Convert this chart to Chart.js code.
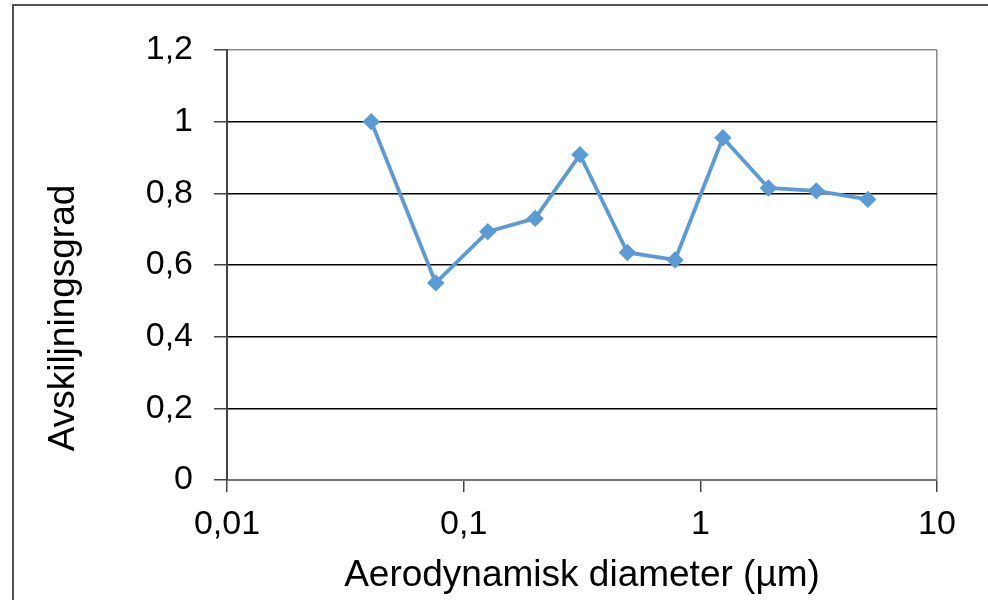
<!DOCTYPE html>
<html>
<head>
<meta charset="utf-8">
<script src="https://cdn.jsdelivr.net/npm/chart.js@4.4.1/dist/chart.umd.min.js"></script>
<style>
  html, body { margin: 0; padding: 0; background: #fff; overflow: hidden; }
  #wrap { position: relative; width: 988px; height: 600px; }
  #frame { position: absolute; left: 12px; top: 4px; width: 1000px; height: 640px;
           border: 2px solid #555; pointer-events: none; }
</style>
</head>
<body>
<div id="wrap">
  <canvas id="myChart" width="988" height="600"></canvas>
  <div id="frame"></div>
</div>
<script>
// diameter (µm) and separation efficiency
const diameters = [0.0407, 0.0762, 0.1265, 0.2005, 0.310, 0.492, 0.782, 1.245, 1.94, 3.09, 5.10];
const efficiency = [1.0, 0.55, 0.693, 0.73, 0.908, 0.635, 0.614, 0.955, 0.815, 0.807, 0.783];

const xTickValues = [0.01, 0.1, 1, 10];
const xTickLabels = ['0,01', '0,1', '1', '10'];
const yTickValues = [0, 0.2, 0.4, 0.6, 0.8, 1.0, 1.2];
const yTickLabels = ['0', '0,2', '0,4', '0,6', '0,8', '1', '1,2'];

const xTitle = 'Aerodynamisk diameter (µm)';
const yTitle = 'Avskiljningsgrad';

const FONT = '"Liberation Sans", Arial, sans-serif';

// y-titeln sitter lite under mitten av axeln, så den ritas för hand
const yTitlePlugin = {
    id: 'yTitle',
    afterDraw(chart) {
        const ctx = chart.ctx;
        ctx.save();
        ctx.translate(64, 318);
        ctx.rotate(-Math.PI / 2);
        ctx.font = '37px ' + FONT;
        ctx.fillStyle = '#000';
        ctx.textAlign = 'center';
        ctx.textBaseline = 'middle';
        ctx.fillText(yTitle, 0, 0);
        ctx.restore();
    }
};

const ctx = document.getElementById('myChart').getContext('2d');
const myChart = new Chart(ctx, {
    type: 'line',
    data: {
        datasets: [{
            label: yTitle,
            data: diameters.map((d, i) => ({x: d, y: efficiency[i]})),
            borderColor: '#5B9BD5',
            backgroundColor: '#5B9BD5',
            borderWidth: 3.8,
            pointStyle: 'rectRot',
            pointRadius: 6,
            pointHoverRadius: 6,
            tension: 0
        }]
    },
    options: {
        responsive: false,
        animation: false,
        layout: { padding: { left: 0, top: 50, right: 51, bottom: 0 } },
        plugins: {
            legend: { display: false },
            tooltip: { enabled: false }
        },
        scales: {
            x: {
                type: 'logarithmic',
                min: 0.01,
                max: 10,
                afterBuildTicks: scale => { scale.ticks = xTickValues.map(v => ({value: v, major: true})); },
                afterFit: scale => { scale.height = 120; },
                ticks: {
                    color: '#000',
                    font: { family: FONT, size: 34 },
                    padding: 12,
                    maxRotation: 0,
                    autoSkip: false,
                    callback: (value, index) => xTickLabels[index]
                },
                grid: {
                    drawOnChartArea: true,
                    color: c => (c.tick && c.tick.value === 10) ? '#8c8c8c' : 'rgba(0,0,0,0)',
                    tickColor: '#444',
                    tickLength: 12,
                    lineWidth: 1.5
                },
                border: { color: '#777', width: 2 },
                title: {
                    display: true,
                    text: xTitle,
                    color: '#000',
                    font: { family: FONT, size: 37 },
                    padding: { top: 0, bottom: 2 }
                }
            },
            y: {
                min: 0,
                max: 1.2,
                afterBuildTicks: scale => { scale.ticks = yTickValues.map(v => ({value: v})); },
                afterFit: scale => { scale.width = 227; },
                ticks: {
                    color: '#000',
                    font: { family: FONT, size: 34 },
                    padding: 21,
                    callback: (value, index) => yTickLabels[index]
                },
                grid: {
                    color: c => (c.tick && c.tick.value === 1.2) ? '#8c8c8c' : '#000',
                    tickColor: '#444',
                    tickLength: 13,
                    lineWidth: 1.5
                },
                border: { color: '#444', width: 2 }
            }
        }
    },
    plugins: [yTitlePlugin]
});
</script>
</body>
</html>
